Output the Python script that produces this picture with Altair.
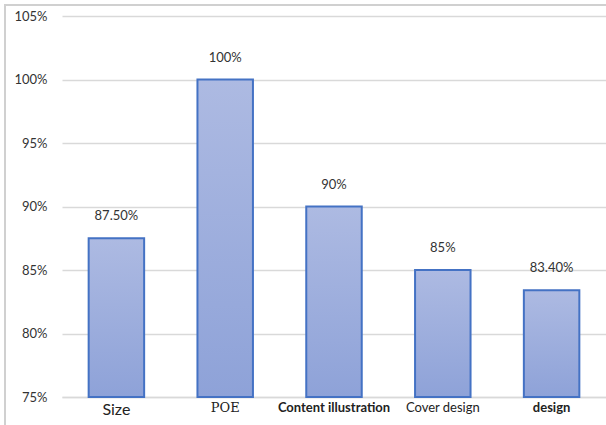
import altair as alt
import pandas as pd

categories = ["Size", "POE", "Content illustration", "Cover design", "design"]
values = [0.875, 1.00, 0.90, 0.85, 0.834]
value_labels = ["87.50%", "100%", "90%", "85%", "83.40%"]
y_ticks = [0.75, 0.80, 0.85, 0.90, 0.95, 1.00, 1.05]

df = pd.DataFrame({"category": categories, "value": values, "label": value_labels})

FONT = "Lato"

x_enc = alt.X(
    "category:N",
    sort=categories,
    scale=alt.Scale(paddingInner=0.49, paddingOuter=0.245),
    axis=alt.Axis(
        title=None,
        labelAngle=0,
        ticks=False,
        domain=True,
        domainColor="#d9d9d9",
        domainWidth=1.5,
        labelColor="#222222",
        labelPadding=4,
        labelFont={"condition": {"test": "datum.value == 'POE'", "value": "DejaVu Serif"}, "value": FONT},
        labelFontSize={"condition": {"test": "datum.value == 'Size'", "value": 16},
                       "value": 13},
        labelFontWeight={"condition": {"test": "datum.value == 'Content illustration' || datum.value == 'design'",
                                       "value": "bold"}, "value": "normal"},
    ),
)

y_scale = alt.Scale(domain=[0.75, 1.05], zero=False, nice=False)

bars = alt.Chart(df).mark_bar(
    color=alt.Gradient(
        gradient="linear",
        stops=[alt.GradientStop(color="#adbae2", offset=0),
               alt.GradientStop(color="#8ea2d8", offset=1)],
        x1=0, x2=0, y1=0, y2=1,
    ),
    stroke="#4472c4",
    strokeWidth=2,
).encode(
    x=x_enc,
    y=alt.Y("value:Q", scale=y_scale,
            axis=alt.Axis(values=y_ticks, format=".0%", title=None, domain=False, ticks=False,
                          gridColor="#d9d9d9", gridWidth=1.5, labelColor="#333333",
                          labelFont=FONT, labelFontSize=13, labelPadding=15)),
    y2=alt.datum(0.75),
)

text = alt.Chart(df).mark_text(dy=-22, font=FONT, fontSize=13, color="#333333").encode(
    x=alt.X("category:N", sort=categories),
    y=alt.Y("value:Q", scale=y_scale),
    text="label:N",
)

frame = alt.Chart(df).mark_rect(fill=None, stroke="#d0d0d0", strokeWidth=1.5).encode(
    x=alt.value(-57), x2=alt.value(560), y=alt.value(-11), y2=alt.value(440)
)

chart = alt.layer(frame, bars, text).properties(
    width=544, height=381,
    padding={"left": 62, "top": 16, "right": 0, "bottom": 28},
    autosize=alt.AutoSizeParams(type="none"),
    background="white",
).configure_view(stroke=None)

chart.save("out.html", embed_options={"renderer": "svg", "actions": False})
